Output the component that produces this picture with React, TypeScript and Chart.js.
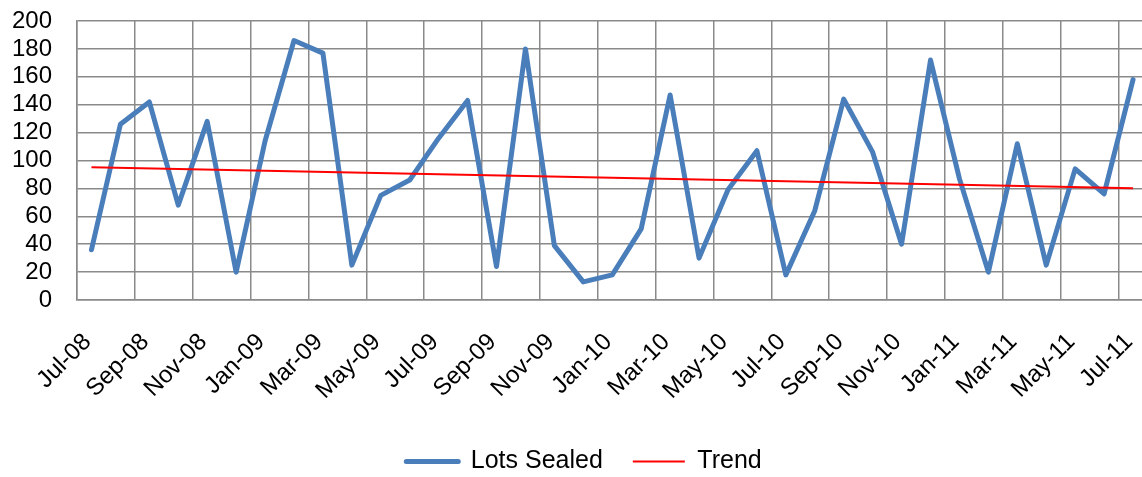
import React, { useEffect, useRef } from 'react';
import { Chart, registerables } from 'chart.js';

Chart.register(...registerables);

const months = [
  'Jul-08', 'Aug-08', 'Sep-08', 'Oct-08', 'Nov-08', 'Dec-08',
  'Jan-09', 'Feb-09', 'Mar-09', 'Apr-09', 'May-09', 'Jun-09',
  'Jul-09', 'Aug-09', 'Sep-09', 'Oct-09', 'Nov-09', 'Dec-09',
  'Jan-10', 'Feb-10', 'Mar-10', 'Apr-10', 'May-10', 'Jun-10',
  'Jul-10', 'Aug-10', 'Sep-10', 'Oct-10', 'Nov-10', 'Dec-10',
  'Jan-11', 'Feb-11', 'Mar-11', 'Apr-11', 'May-11', 'Jun-11',
  'Jul-11',
];

const lotsSealed = [
  36, 126, 142, 68, 128, 20,
  114, 186, 177, 25, 75, 86,
  116, 143, 24, 180, 39, 13,
  18, 51, 147, 30, 79, 107,
  18, 64, 144, 106, 40, 172,
  87, 20, 112, 25, 94, 76,
  158,
];

const trendStart = 95.1;
const trendEnd = 80.1;

const yMin = 0;
const yMax = 200;
const yStep = 20;

const FONT = "'Liberation Sans', Arial, sans-serif";
const GRID = '#8a8a8a';
const BLUE = '#4A7EBB';
const RED = '#FF0000';

const CANVAS_W = 1160;
const CANVAS_H = 477;
const PAD = { left: 4, right: 12.5, top: 21, bottom: -7 };
const PLOT_LEFT = 77;
const PLOT_BOTTOM = 300;
const LEGEND_CENTER = 584;

const legendShift = {
  id: 'legendShift',
  afterLayout(chart: any) {
    const lg = chart.legend;
    if (!lg) return;
    const cur = (lg.left + lg.right) / 2;
    const dx = LEGEND_CENTER - cur;
    lg.left += dx;
    lg.right += dx;
  },
};

export default function App() {
  const ref = useRef<HTMLCanvasElement | null>(null);

  useEffect(() => {
    if (!ref.current) return;
    const chart = new Chart(ref.current, {
      type: 'line',
      data: {
        labels: months,
        datasets: [
          {
            label: 'Lots Sealed',
            data: lotsSealed,
            borderColor: BLUE,
            backgroundColor: BLUE,
            borderWidth: 5,
            borderJoinStyle: 'round',
            borderCapStyle: 'round',
            pointRadius: 0,
            pointHoverRadius: 0,
            tension: 0,
            order: 1,
          },
          {
            label: 'Trend',
            data: [
              { x: months[0], y: trendStart },
              { x: months[months.length - 1], y: trendEnd },
            ],
            borderColor: RED,
            backgroundColor: RED,
            borderWidth: 2,
            pointRadius: 0,
            pointHoverRadius: 0,
            tension: 0,
            order: 0,
          },
        ],
      },
      plugins: [legendShift],
      options: {
        animation: false,
        responsive: false,
        devicePixelRatio: 1,
        layout: { padding: PAD },
        plugins: {
          tooltip: { enabled: false },
          legend: {
            position: 'bottom',
            labels: {
              font: { family: FONT, size: 25 },
              color: '#000',
              boxWidth: 52,
              boxHeight: 0,
              padding: 30,
              generateLabels: () => [
                {
                  text: 'Lots Sealed',
                  fillStyle: BLUE,
                  strokeStyle: BLUE,
                  lineWidth: 5,
                  lineCap: 'round',
                  lineJoin: 'round',
                  hidden: false,
                  datasetIndex: 0,
                  fontColor: '#000',
                } as any,
                {
                  text: 'Trend',
                  fillStyle: RED,
                  strokeStyle: RED,
                  lineWidth: 2,
                  lineCap: 'butt',
                  lineJoin: 'miter',
                  hidden: false,
                  datasetIndex: 1,
                  fontColor: '#000',
                } as any,
              ],
            },
          },
        },
        scales: {
          x: {
            type: 'category',
            offset: true,
            grid: {
              offset: true,
              drawTicks: false,
              color: (ctx: any) => (typeof ctx.index === 'number' && ctx.index % 2 === 0 ? GRID : 'rgba(0,0,0,0)'),
              lineWidth: 1.5,
            },
            border: { display: true, color: GRID, width: 1.5 },
            ticks: {
              autoSkip: false,
              minRotation: 45,
              maxRotation: 45,
              padding: 28,
              labelOffset: -4,
              color: '#000',
              font: { family: FONT, size: 24 },
              callback: function (this: any, _v: any, index: number) {
                return index % 2 === 0 ? months[index] : '';
              },
            },
            afterFit: (scale: any) => {
              const lg = scale.chart.legend;
              const lh = lg ? lg.height : 0;
              scale.height = CANVAS_H - PAD.bottom - lh - PLOT_BOTTOM;
              scale.paddingLeft = 0;
              scale.paddingRight = 0;
            },
          },
          y: {
            min: yMin,
            max: yMax,
            ticks: {
              stepSize: yStep,
              padding: 25,
              color: '#000',
              font: { family: FONT, size: 24, lineHeight: 1 },
            },
            grid: {
              drawTicks: false,
              color: GRID,
              lineWidth: 1.5,
            },
            border: { display: true, color: GRID, width: 1.5 },
            afterFit: (scale: any) => {
              scale.width = PLOT_LEFT - PAD.left;
              scale.paddingTop = 0;
              scale.paddingBottom = 0;
            },
          },
        },
      },
    });
    return () => chart.destroy();
  }, []);

  return (
    <div
      style={{
        position: 'fixed',
        left: 0,
        top: 0,
        width: 1142,
        height: 477,
        overflow: 'hidden',
        background: '#fff',
      }}
    >
      <canvas
        ref={ref}
        width={CANVAS_W}
        height={CANVAS_H}
        style={{ display: 'block', width: CANVAS_W, height: CANVAS_H }}
      />
    </div>
  );
}
